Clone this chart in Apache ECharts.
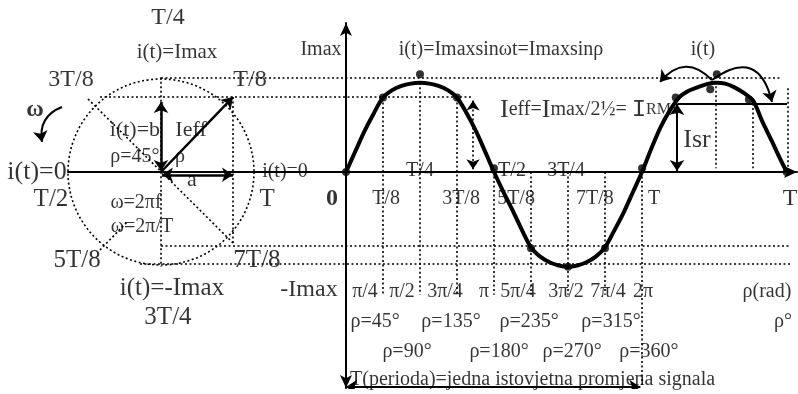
<!DOCTYPE html>
<html>
<head>
<meta charset="utf-8">
<script src="https://cdn.jsdelivr.net/npm/echarts@6/dist/echarts.min.js"></script>
<style>
  html, body { margin: 0; padding: 0; background: #fff; }
  #chart { width: 798px; height: 394px; }
</style>
</head>
<body>
<div id="chart"></div>
<script>
// ---- alternating current i(t) = Imax·sin(ρ), phase in degrees, current in units of Imax ----
const phaseDeg = [0, 11.25, 22.5, 33.75, 45, 56.25, 67.5, 78.75, 90, 101.25, 112.5, 123.75, 135,
                  146.25, 157.5, 168.75, 180, 191.25, 202.5, 213.75, 225, 236.25, 247.5, 258.75, 270,
                  281.25, 292.5, 303.75, 315, 326.25, 337.5, 348.75, 360, 371.25, 382.5, 393.75, 405,
                  416.25, 427.5, 438.75, 450, 461.25, 472.5, 483.75, 495, 506, 517.5, 527, 536];
const current  = [0, 0.22, 0.44, 0.63, 0.80, 0.88, 0.925, 0.95, 0.96, 0.95, 0.925, 0.88, 0.80,
                  0.64, 0.45, 0.23, 0, -0.21, -0.41, -0.62, -0.81, -0.91, -0.97, -1.005, -1.02,
                  -1.005, -0.97, -0.91, -0.81, -0.63, -0.44, -0.22, 0, 0.25, 0.48, 0.66, 0.80,
                  0.87, 0.91, 0.945, 0.96, 0.95, 0.91, 0.85, 0.77, 0.55, 0.34, 0.16, 0];

// marked instants on the waveform
const markerDeg = [0, 45, 90, 135, 180, 225, 270, 315, 360, 401, 443, 451, 490, 536];
const markerVal = [0, 0.80, 1.05, 0.80, 0.04, -0.82, -1.02, -0.82, 0.04, 0.80, 0.89, 1.05, 0.78, 0];

// reference levels (units of Imax)
const levelImax = 1.01;
const levelIeff = 0.806;
const levelNegIeff = -0.796;
const levelNegImax = -0.989;
const levelIeffSecond = 0.731;

// tick label texts
const fractionTicks = ['T/8', '3T/8', '5T/8', '7T/8', 'T', 'T'];
const axisFractionTicks = ['T/4', 'T/2', '3T/4'];
const radianTicks = ['π/4', 'π/2', '3π/4', 'π', '5π/4', '3π/2', '7π/4', '2π', 'ρ(rad)'];
const degreeTicksUpper = ['ρ=45°', 'ρ=135°', 'ρ=235°', 'ρ=315°', 'ρ°'];
const degreeTicksLower = ['ρ=90°', 'ρ=180°', 'ρ=270°', 'ρ=360°'];
const phasorTexts = ['T/4', 'i(t)=Imax', '3T/8', 'T/8', 'i(t)=b', 'Ieff', 'ρ=45°', 'ρ',
                     'i(t)=0', 'a', 'T/2', 'T', 'ω=2πf', 'ω=2π/T', '5T/8', '7T/8', 'i(t)=-Imax', '3T/4'];

// ---- layout ----
const L = { W: 798, H: 394, axisY: 172, originX: 346, pxPerDeg: 296 / 360, pxPerUnit: 93,
            circleX: 161, waveLeft: 68, waveTop: 23, waveBottom: 388 };
const FONT = 'Liberation Serif';
const DOT = [2, 2.5];

// label anchor positions (phase in degrees / level in Imax units)
const fractionPos = [48.7, 139.9, 206.8, 302.8, 374.6, 540];
const axisFractionPos = [90, 201.9, 267.6];
const radianPos = [23.1, 68.1, 120.4, 167.8, 209.2, 267.6, 318.7, 361.2, 512];
const degreeUpperPos = [35.3, 127.7, 222.6, 322.3, 531.5];
const degreeLowerPos = [74.2, 186.1, 274.9, 368.5];
const phasorPos = [[0.075, 1.656], [0.172, 1.29], [-0.968, 0.989], [0.957, 0.989], [-0.28, 0.452],
                   [0.323, 0.452], [-0.28, 0.161], [0.204, 0.161], [-1.333, 0], [0.333, -0.086],
                   [-1.183, -0.29], [1.14, -0.29], [-0.269, -0.333], [-0.204, -0.591],
                   [-0.903, -0.946], [1.032, -0.946], [0.118, -1.247], [0.075, -1.559]];
const phasorSize = [24, 21, 24, 24, 22, 22, 20, 20, 26, 22, 25, 25, 20, 20, 25, 25, 25, 25];

function txt(text, x, y, size, extra) {
  return {
    value: [x, y],
    label: Object.assign({ show: true, formatter: text, fontSize: size, fontFamily: FONT,
                           color: '#000', position: 'inside' }, extra || {})
  };
}

// waveform labels
const waveLabels = [];
fractionTicks.forEach((t, i) => waveLabels.push(txt(t, fractionPos[i], -0.29, i === 5 ? 24 : 20)));
axisFractionTicks.forEach((t, i) => waveLabels.push(txt(t, axisFractionPos[i], 0.01, 20)));
radianTicks.forEach((t, i) => waveLabels.push(txt(t, radianPos[i], -1.29, 20)));
degreeTicksUpper.forEach((t, i) => waveLabels.push(txt(t, degreeUpperPos[i], -1.613, 20)));
degreeTicksLower.forEach((t, i) => waveLabels.push(txt(t, degreeLowerPos[i], -1.935, 20)));
waveLabels.push(txt('Imax', -30.4, 1.312, 20));
waveLabels.push(txt('i(t)=Imaxsinωt=Imaxsinρ', 188.5, 1.312, 20));
waveLabels.push(txt('i(t)', 434.2, 1.312, 20));
waveLabels.push(txt('i(t)=0', -74.2, 0, 20));
waveLabels.push(txt('0', -17, -0.29, 24, { fontWeight: 'bold' }));
waveLabels.push(txt('-Imax', -45, -1.269, 24));
waveLabels.push(txt('Isr', 426.9, 0.344, 26));
waveLabels.push(txt('T(perioda)=jedna istovjetna promjena signala', 4.9, -2.237, 20, { align: 'left' }));
waveLabels.push(txt('{big|I}{n|eff=}{big|I}{n|max/2½= }{mono|I}{sc|RMS}', 187.3, 0.67, 20, {
  align: 'left',
  rich: {
    big: { fontSize: 26, fontFamily: FONT, color: '#000' },
    n: { fontSize: 20, fontFamily: FONT, color: '#000' },
    mono: { fontSize: 24, fontFamily: 'Liberation Mono', color: '#000' },
    sc: { fontSize: 16, fontFamily: FONT, color: '#000' }
  }
}));

// phasor labels
const phasorLabels = phasorTexts.map((t, i) => txt(t, phasorPos[i][0], phasorPos[i][1], phasorSize[i]));
phasorLabels.push(txt('ω', -1.355, 0.667, 24, { fontWeight: 'bold' }));

// ---- construction lines ----
const seg = (a, b, extra) => Object.assign({ coords: [a, b] }, extra || {});
const phasorDotted = [
  seg([0, 1.02], [0, -1.02]),
  seg([0.774, levelIeff], [0.774, -0.763]),
  seg([-0.656, levelIeff], [3.355, levelIeff]),
  seg([0, levelImax], [6.656, levelImax]),
  seg([0, levelNegIeff], [6.763, levelNegIeff]),
  seg([-0.226, levelNegImax], [6.763, levelNegImax]),
  seg([-0.785, 0.785], [0.774, -0.763]),
  seg([-0.656, -0.839], [-0.355, -0.527])
];
const waveDotted = [
  seg([45, 0.796], [45, -1.32]), seg([90, 0.96], [90, -1.32]), seg([135, 0.796], [135, -1.32]),
  seg([180, 0], [180, -1.32]), seg([225, 0], [225, -1.32]), seg([270, 0], [270, -1.32]),
  seg([315, 0], [315, -1.32]), seg([360, 0], [360, -2.29]),
  seg([450, 0.97], [450, 0.04]), seg([495, 0.785], [495, 0.04]), seg([537, 0.9], [537, 0])
];

const lineBase = { type: 'lines', coordinateSystem: 'cartesian2d', silent: true, z: 3 };
const black = '#000';
const dottedStyle = { type: DOT, width: 1.6, color: black, opacity: 1 };

const option = {
  animation: false,
  backgroundColor: '#fff',
  grid: [
    { left: 0, top: 0, width: L.W, height: L.H },
    { left: L.waveLeft, top: L.waveTop, width: L.W - L.waveLeft - 1, height: L.waveBottom - L.waveTop }
  ],
  xAxis: [
    { gridIndex: 0, type: 'value', min: -L.circleX / L.pxPerUnit, max: (L.W - L.circleX) / L.pxPerUnit, show: false },
    { gridIndex: 1, type: 'value', min: -(L.originX - L.waveLeft) / L.pxPerDeg,
      max: (L.W - 1 - L.originX) / L.pxPerDeg,
      axisLine: { onZero: true, symbol: ['none', 'arrow'], symbolSize: [9, 13], lineStyle: { color: black, width: 2 } },
      axisTick: { show: false }, axisLabel: { show: false }, splitLine: { show: false } }
  ],
  yAxis: [
    { gridIndex: 0, type: 'value', min: -(L.H - L.axisY) / L.pxPerUnit, max: L.axisY / L.pxPerUnit, show: false },
    { gridIndex: 1, type: 'value', min: -(L.waveBottom - L.axisY) / L.pxPerUnit,
      max: (L.axisY - L.waveTop) / L.pxPerUnit,
      axisLine: { onZero: true, symbol: ['arrow', 'arrow'], symbolSize: [9, 13], lineStyle: { color: black, width: 2 } },
      axisTick: { show: false }, axisLabel: { show: false }, splitLine: { show: false } }
  ],
  polar: { center: [L.circleX, L.axisY], radius: L.pxPerUnit },
  angleAxis: { type: 'value', axisLine: { lineStyle: { type: DOT, width: 1.6, color: black } },
               axisTick: { show: false }, axisLabel: { show: false }, splitLine: { show: false } },
  radiusAxis: { show: false },
  series: [
    Object.assign({}, lineBase, { xAxisIndex: 0, yAxisIndex: 0, symbol: ['none', 'none'],
      lineStyle: dottedStyle, data: phasorDotted }),
    Object.assign({}, lineBase, { xAxisIndex: 1, yAxisIndex: 1, symbol: ['none', 'none'],
      lineStyle: dottedStyle, data: waveDotted }),
    // Ieff span on the first half-wave (dotted, arrows both ends)
    Object.assign({}, lineBase, { xAxisIndex: 1, yAxisIndex: 1, symbol: ['arrow', 'arrow'], symbolSize: 10,
      lineStyle: dottedStyle, data: [seg([154.5, 0.77], [154.5, 0.03])] }),
    // phasor arrow
    Object.assign({}, lineBase, { xAxisIndex: 0, yAxisIndex: 0, symbol: ['none', 'arrow'], symbolSize: 11,
      lineStyle: { width: 2.5, color: black, opacity: 1 }, data: [seg([0, 0], [0.774, 0.806])] }),
    // components a and b
    Object.assign({}, lineBase, { xAxisIndex: 0, yAxisIndex: 0, symbol: ['arrow', 'arrow'], symbolSize: 11,
      lineStyle: { width: 2.5, color: black, opacity: 1 },
      data: [seg([0, 0.753], [0, 0.01]), seg([0.01, -0.03], [0.774, -0.03])] }),
    // rotation sense ω
    Object.assign({}, lineBase, { xAxisIndex: 0, yAxisIndex: 0, symbol: ['none', 'arrow'], symbolSize: 11,
      lineStyle: { width: 2, color: black, opacity: 1, curveness: -0.4 },
      data: [seg([-1.065, 0.699], [-1.28, 0.323])] }),
    // Ieff level on the second half-wave
    Object.assign({}, lineBase, { xAxisIndex: 1, yAxisIndex: 1, symbol: ['none', 'none'],
      lineStyle: { width: 2, color: black, opacity: 1 },
      data: [seg([403.8, levelIeffSecond], [536.4, levelIeffSecond])] }),
    // Isr span
    Object.assign({}, lineBase, { xAxisIndex: 1, yAxisIndex: 1, symbol: ['arrow', 'arrow'], symbolSize: 11,
      lineStyle: { width: 2, color: black, opacity: 1 },
      data: [seg([402.6, levelIeffSecond], [402.6, 0.01])] }),
    // period T
    Object.assign({}, lineBase, { xAxisIndex: 1, yAxisIndex: 1, symbol: ['arrow', 'arrow'], symbolSize: 11,
      lineStyle: { width: 2, color: black, opacity: 1 },
      data: [seg([0, -2.312], [358, -2.312])] }),
    // curved arrows around the second peak
    Object.assign({}, lineBase, { xAxisIndex: 1, yAxisIndex: 1, symbol: ['none', 'arrow'], symbolSize: 11,
      lineStyle: { width: 2, color: black, opacity: 1 },
      data: [
        seg([445.1, 0.989], [381.9, 0.968], { lineStyle: { curveness: -0.55 } }),
        seg([445.1, 0.989], [518.1, 0.753], { lineStyle: { curveness: 0.75 } })
      ] }),
    // waveform
    { type: 'line', xAxisIndex: 1, yAxisIndex: 1, smooth: 0.3, showSymbol: false, silent: true, z: 5,
      lineStyle: { width: 4, color: black }, data: phaseDeg.map((d, i) => [d, current[i]]) },
    { type: 'scatter', xAxisIndex: 1, yAxisIndex: 1, symbolSize: 8, silent: true, z: 6,
      itemStyle: { color: black }, data: markerDeg.map((d, i) => [d, markerVal[i]]) },
    // text
    { type: 'scatter', xAxisIndex: 1, yAxisIndex: 1, symbolSize: 1, silent: true, z: 7,
      itemStyle: { color: 'rgba(0,0,0,0)' }, data: waveLabels },
    { type: 'scatter', xAxisIndex: 0, yAxisIndex: 0, symbolSize: 1, silent: true, z: 7,
      itemStyle: { color: 'rgba(0,0,0,0)' }, data: phasorLabels }
  ]
};

const chart = echarts.init(document.getElementById('chart'), null, { renderer: 'canvas' });
chart.setOption(option);
</script>
</body>
</html>
